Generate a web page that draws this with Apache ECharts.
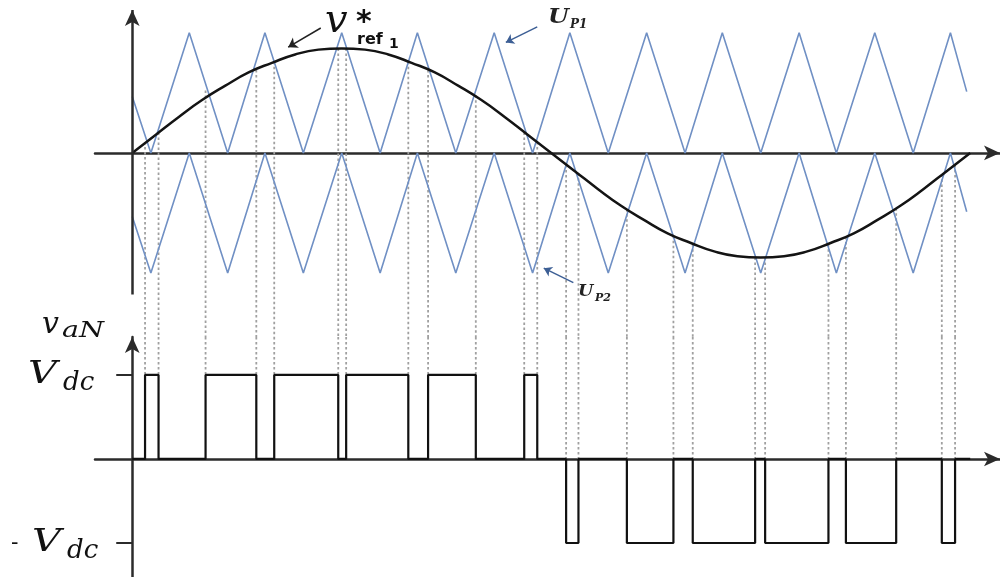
<!DOCTYPE html>
<html>
<head>
<meta charset="utf-8">
<script src="https://cdn.jsdelivr.net/npm/echarts@6/dist/echarts.min.js"></script>
<style>
  html, body { margin: 0; padding: 0; background: #ffffff; }
  #chart { width: 1000px; height: 577px; }
</style>
</head>
<body>
<div id="chart"></div>
<script>
// Reference wave v*_ref1 over one fundamental period (angle in degrees)
const refAngles = [0, 10, 20, 30, 40, 50, 60, 70, 80, 90, 100, 110, 120, 130, 140, 150, 160, 170, 180,
                   190, 200, 210, 220, 230, 240, 250, 260, 270, 280, 290, 300, 310, 320, 330, 340, 350, 360];
const refValues = [0, 0.15, 0.30, 0.44, 0.56, 0.67, 0.75, 0.82, 0.86, 0.87, 0.86, 0.82, 0.75, 0.67, 0.56, 0.44, 0.30, 0.15, 0,
                   -0.15, -0.30, -0.44, -0.56, -0.67, -0.75, -0.82, -0.86, -0.87, -0.86, -0.82, -0.75, -0.67, -0.56, -0.44, -0.30, -0.15, 0];

// Triangular carriers U_P1 (upper band) and U_P2 (lower band): vertex angles and levels
const carrierAngles = [0, 8, 24.5, 41, 57, 73.5, 90, 106.5, 122.5, 139, 155.5, 172, 188,
                       204.5, 221, 237.5, 253.5, 270, 286.5, 302.5, 319, 335.5, 351.5, 358.5];
const up1Values = [0.47, 0, 1, 0, 1, 0, 1, 0, 1, 0, 1, 0, 1, 0, 1, 0, 1, 0, 1, 0, 1, 0, 1, 0.51];
const up2Values = [-0.53, -1, 0, -1, 0, -1, 0, -1, 0, -1, 0, -1, 0, -1, 0, -1, 0, -1, 0, -1, 0, -1, 0, -0.49];

// Output pulses v_aN: [rising edge, falling edge] in degrees
const posPulses = [[5.5, 11.3], [31.5, 53.3], [61, 88.5], [91.9, 118.6], [127.1, 147.6], [168.4, 174]];
const negPulses = [[186.4, 191.7], [212.5, 232.5], [240.8, 267.6], [271.9, 299.1], [306.6, 328.2], [347.8, 353.5]];
// Level where each switching instant meets the reference wave
const posCross = [[0.09, 0.17], [0.52, 0.69], [0.76, 0.87], [0.87, 0.76], [0.69, 0.48], [0.17, 0.09]];
const negCross = [[-0.10, -0.17], [-0.47, -0.69], [-0.76, -0.87], [-0.87, -0.76], [-0.70, -0.46], [-0.18, -0.10]];

// Output voltage levels (+Vdc / -Vdc)
const outLevels = [1, -1];

// axis ranges
const X_MIN = -16, X_MAX = 372.8;
const TOP_MIN = -1.533, TOP_MAX = 1.19;
const BOT_MIN = -1.405, BOT_MAX = 1.452;

const AXIS_COLOR = '#2b2b2b';
const CARRIER_COLOR = '#7090c4';
const DOT_COLOR = '#a0a0a0';

// pulse train
const pulseData = [[0, 0]];
posPulses.forEach(([a, b]) => { pulseData.push([a, 0], [a, outLevels[0]], [b, outLevels[0]], [b, 0]); });
negPulses.forEach(([a, b]) => { pulseData.push([a, 0], [a, outLevels[1]], [b, outLevels[1]], [b, 0]); });
pulseData.push([360, 0]);

// projection lines: crossing point -> bottom of the top panel, then top of the lower panel -> pulse edge
const dotTop = [];
const dotBottom = [];
posPulses.forEach((edges, i) => edges.forEach((a, j) => {
  dotTop.push([a, posCross[i][j]], [a, TOP_MIN], [a, null]);
  dotBottom.push([a, BOT_MAX], [a, outLevels[0]], [a, null]);
}));
negPulses.forEach((edges, i) => edges.forEach((a, j) => {
  dotTop.push([a, negCross[i][j]], [a, TOP_MIN], [a, null]);
  dotBottom.push([a, BOT_MAX], [a, 0], [a, null]);
}));

const zip = (xs, ys) => xs.map((x, i) => [x, ys[i]]);

function xAxisCfg(gridIndex) {
  return {
    type: 'value', gridIndex, min: X_MIN, max: X_MAX,
    axisLine: { show: true, onZero: true, symbol: ['none', 'arrow'], symbolSize: [11, 16],
                lineStyle: { color: AXIS_COLOR, width: 2.5 } },
    axisTick: { show: false }, axisLabel: { show: false }, splitLine: { show: false }
  };
}

// math-style text pieces; base is the text baseline
function txt(text, x, base, size, opt) {
  opt = opt || {};
  return {
    type: 'text', x: x, y: base - 0.30 * size, scaleX: opt.sx || 1, originX: 0, z: 100,
    style: {
      text: text, fill: opt.color || '#111',
      fontFamily: opt.family || 'DejaVu Serif', fontSize: size,
      fontStyle: opt.style || 'italic', fontWeight: opt.weight || 'normal',
      align: 'left', verticalAlign: 'middle'
    }
  };
}

const chart = echarts.init(document.getElementById('chart'), null, { renderer: 'canvas' });
chart.setOption({
  animation: false,
  backgroundColor: '#ffffff',
  grid: [
    { left: 95, right: 0, top: 10, height: 327 },
    { left: 95, right: 0, top: 337, height: 240 }
  ],
  xAxis: [xAxisCfg(0), xAxisCfg(1)],
  yAxis: [
    { type: 'value', gridIndex: 0, min: TOP_MIN, max: TOP_MAX,
      axisLine: { show: false }, axisTick: { show: false }, axisLabel: { show: false }, splitLine: { show: false } },
    { type: 'value', gridIndex: 1, min: BOT_MIN, max: BOT_MAX,
      axisLine: { show: true, onZero: true, symbol: ['none', 'arrow'], symbolSize: [11, 16],
                  lineStyle: { color: AXIS_COLOR, width: 2.5 } },
      axisTick: { show: true, inside: false, length: 16, customValues: outLevels,
                  lineStyle: { color: AXIS_COLOR, width: 2 } },
      axisLabel: { show: false }, splitLine: { show: false } }
  ],
  series: [
    { name: 'proj-top', type: 'line', xAxisIndex: 0, yAxisIndex: 0, data: dotTop,
      symbol: 'none', silent: true, z: 1,
      lineStyle: { color: DOT_COLOR, width: 1.8, type: [2.5, 2.5] } },
    { name: 'proj-bottom', type: 'line', xAxisIndex: 1, yAxisIndex: 1, data: dotBottom,
      symbol: 'none', silent: true, z: 1,
      lineStyle: { color: DOT_COLOR, width: 1.8, type: [2.5, 2.5] } },
    { name: 'U_P1', type: 'line', xAxisIndex: 0, yAxisIndex: 0, data: zip(carrierAngles, up1Values),
      symbol: 'none', z: 2, lineStyle: { color: CARRIER_COLOR, width: 1.6 } },
    { name: 'U_P2', type: 'line', xAxisIndex: 0, yAxisIndex: 0, data: zip(carrierAngles, up2Values),
      symbol: 'none', z: 2, lineStyle: { color: CARRIER_COLOR, width: 1.6 } },
    { name: 'v_ref1', type: 'line', xAxisIndex: 0, yAxisIndex: 0, data: zip(refAngles, refValues),
      smooth: true, symbol: 'none', z: 3, lineStyle: { color: '#141414', width: 2.5 },
      markLine: {
        silent: true, symbol: ['none', 'arrow'], label: { show: false }, animation: false,
        data: [
          // vertical axis of the modulation panel
          [{ coord: [0, -1.18], symbolSize: [11, 16] },
           { coord: [0, 1.19], symbolSize: [11, 16], lineStyle: { color: AXIS_COLOR, width: 2.5, type: 'solid' } }],
          // pointer to the reference wave
          [{ coord: [81, 1.04], symbolSize: 9 },
           { coord: [67, 0.88], symbolSize: 9, lineStyle: { color: '#222', width: 1.5, type: 'solid', curveness: 0.15 } }],
          // pointer to U_P1
          [{ coord: [174, 1.05], symbolSize: 8 },
           { coord: [160.5, 0.92], symbolSize: 8, lineStyle: { color: '#3d5f95', width: 1.5, type: 'solid', curveness: 0.1 } }],
          // pointer to U_P2
          [{ coord: [189.5, -1.08], symbolSize: 8 },
           { coord: [176.8, -0.96], symbolSize: 8, lineStyle: { color: '#3d5f95', width: 1.5, type: 'solid', curveness: -0.15 } }]
        ]
      } },
    { name: 'v_aN', type: 'line', xAxisIndex: 1, yAxisIndex: 1, data: pulseData,
      symbol: 'none', z: 3, lineStyle: { color: '#111', width: 2.2 } }
  ],
  graphic: [
    txt('v', 325, 34, 40),
    txt('*', 356, 32, 30, { style: 'normal', weight: 'bold', family: 'DejaVu Sans' }),
    txt('ref', 357, 45, 16, { style: 'normal', weight: 'bold', family: 'DejaVu Sans' }),
    txt('1', 389, 49, 14, { style: 'normal', weight: 'bold', family: 'DejaVu Sans' }),

    txt('U', 548, 24, 20, { weight: 'bold', color: '#222', sx: 1.2 }),
    txt('P1', 570, 28, 12, { weight: 'bold', color: '#222' }),
    txt('U', 578, 297, 16, { weight: 'bold', color: '#222', sx: 1.1 }),
    txt('P2', 595, 301, 11, { weight: 'bold', color: '#222' }),

    txt('v', 42, 334, 30),
    txt('aN', 62, 338, 22, { sx: 1.3 }),

    txt('V', 28, 384, 32, { sx: 1.25 }),
    txt('dc', 63, 391, 26),
    txt('-', 11, 550, 22, { style: 'normal' }),
    txt('V', 32, 552, 32, { sx: 1.25 }),
    txt('dc', 67, 559, 26)
  ]
});
</script>
</body>
</html>
